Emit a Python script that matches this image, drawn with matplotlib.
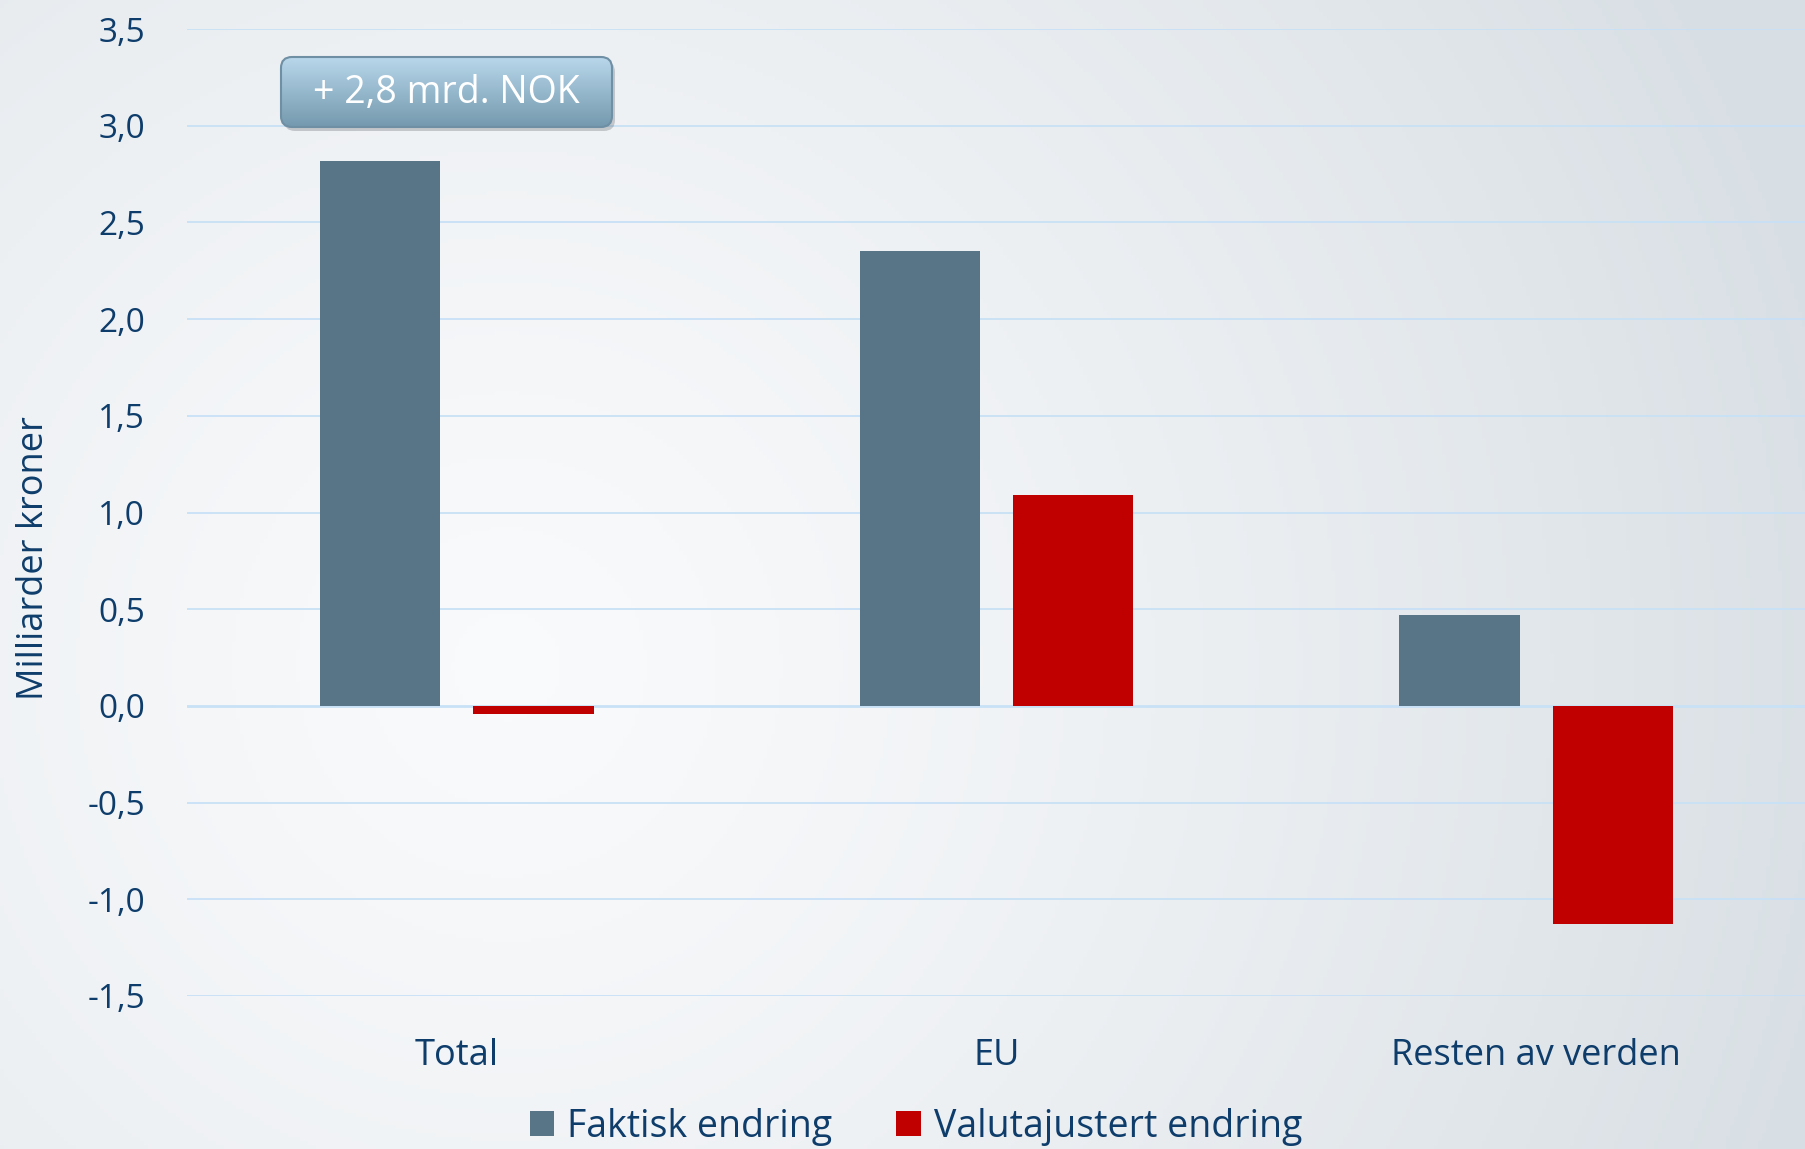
import numpy as np
import matplotlib
matplotlib.use("Agg")
import matplotlib.pyplot as plt
from matplotlib.patches import FancyBboxPatch, Patch

plt.rcParams['font.family'] = ['Open Sans', 'DejaVu Sans']

# ---- data ----
categories = ["Total", "EU", "Resten av verden"]
faktisk = [2.82, 2.35, 0.47]
valuta = [-0.04, 1.09, -1.13]
series_labels = ["Faktisk endring", "Valutajustert endring"]
yticks = [-1.5, -1.0, -0.5, 0.0, 0.5, 1.0, 1.5, 2.0, 2.5, 3.0, 3.5]
ytick_labels = [f"{v:.1f}".replace(".", ",") for v in yticks]
annotation = "+ 2,8 mrd. NOK"
ylabel = "Milliarder kroner"

TEXT = "#0E3D6B"
C_FAKT = "#587587"
C_VAL = "#C00000"
GRID = "#C8E1F6"

W, H = 1806, 1149
fig = plt.figure(figsize=(W / 100, H / 100), dpi=100)

# ---- background gradient ----
bg = fig.add_axes([0, 0, 1, 1], zorder=-10)
yy, xx = np.mgrid[0:H:4, 0:W:4]
cx, cy = 0.28 * W, 0.58 * H
d = np.sqrt((xx - cx) ** 2 + (yy - cy) ** 2) / 1350.0
t = np.clip(d, 0, 1) ** 1.3
light = np.array([0.978, 0.982, 0.988])
dark = np.array([0.850, 0.876, 0.896])
img = light[None, None, :] * (1 - t[..., None]) + dark[None, None, :] * t[..., None]
bg.imshow(img, extent=[0, 1, 0, 1], aspect="auto", origin="upper")
bg.axis("off")

# ---- main axes ----
ax = fig.add_axes([187 / W, 1 - 996 / H, 1 - 187 / W, (996 - 29) / H])
ax.patch.set_alpha(0)
x = np.arange(len(categories))
bw, off = 0.223, 0.142
ax.bar(x - off, faktisk, bw, color=C_FAKT, zorder=3, label=series_labels[0])
ax.bar(x + off, valuta, bw, color=C_VAL, zorder=3, label=series_labels[1])
ax.set_xlim(-0.5, 2.5)
ax.set_ylim(-1.5, 3.5)
ax.set_yticks(yticks)
ax.set_yticklabels(ytick_labels)
for v in yticks:
    ax.axhline(v, color=GRID, lw=2.0 if v == 0 else 1.3, zorder=1)
ax.set_xticks(x)
ax.set_xticklabels(categories)
for s in ax.spines.values():
    s.set_visible(False)
ax.tick_params(axis="y", length=0, pad=30, labelsize=24, labelcolor=TEXT)
ax.tick_params(axis="x", length=0, pad=30, labelsize=26, labelcolor=TEXT)
ax.set_ylabel(ylabel, fontsize=26, color=TEXT)
ax.yaxis.set_label_coords(-0.0834, 0.453)

# ---- annotation box ----
bx0, bx1, by0, by1 = 281, 612, 57, 127
bw_px, bh_px = bx1 - bx0, by1 - by0
abox = fig.add_axes([bx0 / W, 1 - by1 / H, bw_px / W, bh_px / H], zorder=5)
abox.set_xlim(0, bw_px)
abox.set_ylim(0, bh_px)
abox.axis("off")
shadow = FancyBboxPatch((3, -4), bw_px, bh_px, boxstyle="round,pad=0,rounding_size=11",
                        fc="#404850", ec="none", alpha=0.25, clip_on=False, zorder=1)
abox.add_patch(shadow)
top = np.array([0.725, 0.843, 0.922])
bot = np.array([0.455, 0.600, 0.682])
g = np.linspace(0, 1, 100)[:, None, None]
grad = top[None, None, :] * (1 - g) + bot[None, None, :] * g
grad = np.repeat(grad, 2, axis=1)
im = abox.imshow(grad, extent=[0, bw_px, 0, bh_px], aspect="auto", origin="upper", zorder=2)
clip = FancyBboxPatch((0, 0), bw_px, bh_px, boxstyle="round,pad=0,rounding_size=11",
                      fc="none", ec="#6E8FA4", lw=1.5, zorder=3, clip_on=False)
abox.add_patch(clip)
im.set_clip_path(clip)
abox.text(bw_px / 2, bh_px / 2 - 1, annotation, ha="center", va="center",
          color="white", fontsize=27, zorder=4)

# ---- legend ----
handles = [Patch(facecolor=C_FAKT), Patch(facecolor=C_VAL)]
fig.legend(handles, series_labels, loc="center", bbox_to_anchor=(916 / W, 1 - 1127 / H),
           ncol=2, frameon=False, fontsize=27, labelcolor=TEXT,
           handlelength=0.65, handleheight=0.65, handletextpad=0.35,
           columnspacing=1.7, borderpad=0)

fig.savefig("out.png", dpi=100)
